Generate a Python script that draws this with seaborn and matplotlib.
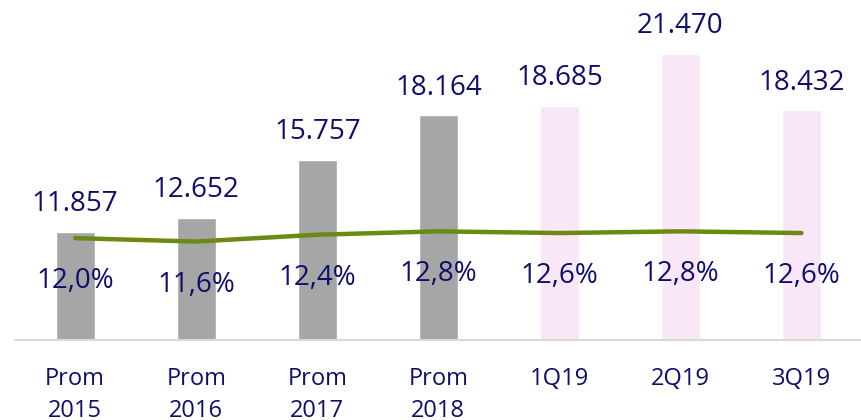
import pandas as pd
import seaborn as sns
import matplotlib.pyplot as plt

# data
categories = ['Prom\n2015', 'Prom\n2016', 'Prom\n2017', 'Prom\n2018', '1Q19', '2Q19', '3Q19']
values = [11857, 12652, 15757, 18164, 18685, 21470, 18432]
pct = [12.0, 11.6, 12.4, 12.8, 12.6, 12.8, 12.6]
period = ['hist', 'hist', 'hist', 'hist', 'q', 'q', 'q']

navy = '#0e0e6c'
green = '#6b8a12'

df = pd.DataFrame({'cat': categories, 'val': values, 'pct': pct, 'period': period})

sns.set_style('white')
plt.rcParams['font.family'] = ['Open Sans', 'DejaVu Sans']

fig = plt.figure(figsize=(8.62, 4.2), dpi=100)
ax = fig.add_axes([0.017, 0.19, 0.983, 0.81])

sns.barplot(data=df, x='cat', y='val', hue='period', dodge=False,
            palette={'hist': '#a6a6a6', 'q': '#fce4fa'}, width=0.32,
            legend=False, ax=ax)
ax.set_ylim(6025, 24400)
ax.set_xlim(-0.5, 6.5)

for i, v in enumerate(values):
    ax.annotate(f'{v:,}'.replace(',', '.'), (i, v), xytext=(0, 20),
                textcoords='offset points', ha='center', va='center',
                fontsize=20, color=navy)

ax2 = ax.twinx()
ax2.plot(range(len(pct)), pct, color=green, lw=3.2, solid_capstyle='round')
ax2.set_ylim(0, 40)
for i, p in enumerate(pct):
    ax2.annotate(f'{p:.1f}%'.replace('.', ','), (i, p), xytext=(0, -31),
                 textcoords='offset points', ha='center', va='center',
                 fontsize=20, color=navy)

for a in (ax, ax2):
    for s in ['top', 'left', 'right']:
        a.spines[s].set_visible(False)
    a.set_yticks([])
    a.set_ylabel('')
ax2.spines['bottom'].set_visible(False)
ax.spines['bottom'].set_color('#d9d9d9')
ax.spines['bottom'].set_linewidth(1.5)
ax.set_xlabel('')
ax.tick_params(axis='x', length=0, pad=19, labelsize=17, labelcolor=navy)
for t in ax.get_xticklabels():
    t.set_linespacing(1.45)

fig.savefig('out.png', dpi=100)
